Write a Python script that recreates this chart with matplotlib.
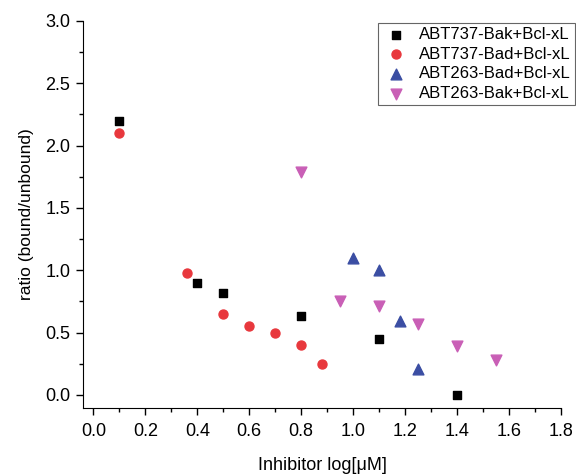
import matplotlib.pyplot as plt
from matplotlib.ticker import MultipleLocator, FormatStrFormatter

plt.rcParams['font.family'] = ['Liberation Sans', 'DejaVu Sans']

# ABT737-Bak+Bcl-xL
bak737_x = [0.10, 0.40, 0.50, 0.80, 1.10, 1.40]
bak737_y = [2.20, 0.90, 0.82, 0.63, 0.45, 0.00]
# ABT737-Bad+Bcl-xL
bad737_x = [0.10, 0.36, 0.50, 0.60, 0.70, 0.80, 0.88]
bad737_y = [2.10, 0.98, 0.65, 0.55, 0.50, 0.40, 0.25]
# ABT263-Bad+Bcl-xL
bad263_x = [1.00, 1.10, 1.18, 1.25]
bad263_y = [1.10, 1.00, 0.59, 0.21]
# ABT263-Bak+Bcl-xL
bak263_x = [0.80, 0.95, 1.10, 1.25, 1.40, 1.55]
bak263_y = [1.79, 0.75, 0.71, 0.57, 0.39, 0.28]

fig = plt.figure(figsize=(5.76, 4.75), dpi=100)
ax = fig.add_axes([0.144, 0.141, 0.830, 0.815])

ax.scatter(bak737_x, bak737_y, marker='s', s=30, color='black', label='ABT737-Bak+Bcl-xL', zorder=3)
ax.scatter(bad737_x, bad737_y, marker='o', s=42, color='#e8383d', label='ABT737-Bad+Bcl-xL', zorder=3)
ax.scatter(bad263_x, bad263_y, marker='^', s=60, color='#3b4ea3', label='ABT263-Bad+Bcl-xL', zorder=3)
ax.scatter(bak263_x, bak263_y, marker='v', s=60, color='#c95fb6', label='ABT263-Bak+Bcl-xL', zorder=3)

ax.set_xlim(-0.04, 1.8)
ax.set_ylim(-0.105, 3.0)
ax.xaxis.set_major_locator(MultipleLocator(0.2))
ax.xaxis.set_minor_locator(MultipleLocator(0.1))
ax.yaxis.set_major_locator(MultipleLocator(0.5))
ax.yaxis.set_minor_locator(MultipleLocator(0.25))
ax.xaxis.set_major_formatter(FormatStrFormatter('%.1f'))
ax.yaxis.set_major_formatter(FormatStrFormatter('%.1f'))

for side in ['top', 'right']:
    ax.spines[side].set_visible(False)
ax.tick_params(which='major', direction='out', length=5, width=1, labelsize=13)
ax.tick_params(axis='x', which='major', pad=6)
ax.tick_params(axis='y', which='major', pad=4)
ax.tick_params(which='minor', direction='out', length=3, width=1)

ax.set_xlabel('Inhibitor log[\u03bcM]', fontsize=13, labelpad=12)
ax.set_ylabel('ratio (bound/unbound)', fontsize=12.5, labelpad=8)

leg = ax.legend(loc='upper right', bbox_to_anchor=(575 / 576, 1 - 23 / 475),
                bbox_transform=fig.transFigure, fontsize=12,
                frameon=True, fancybox=False, edgecolor='#666666', framealpha=1,
                handletextpad=0.6, borderpad=0.25, labelspacing=0.28,
                handlelength=1.6, borderaxespad=0)
leg.get_frame().set_linewidth(0.8)

plt.savefig('out.png', dpi=100)
